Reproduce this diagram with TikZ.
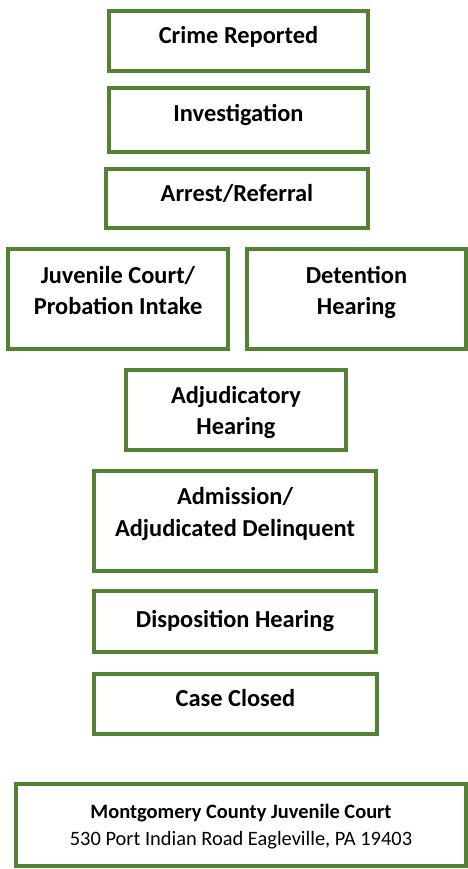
\documentclass[tikz,border=0pt]{standalone}
\usepackage{fontspec}
\setmainfont{Carlito}
\definecolor{boxgreen}{RGB}{84,130,53}
\begin{document}
\begin{tikzpicture}[x=1bp,y=-1bp,
  box/.style={draw=boxgreen, line width=4bp, rectangle, inner sep=0pt, fill=white},
  lbl/.style={font=\fontsize{24.5}{30}\selectfont\bfseries, anchor=base, inner sep=0pt},
  flbl/.style={font=\fontsize{20.5}{25}\selectfont\bfseries, anchor=base, inner sep=0pt},
  faddr/.style={font=\fontsize{20.5}{25}\selectfont, anchor=base, inner sep=0pt}]
\useasboundingbox (0,0) rectangle (468,869);
% boxes
\node[box, minimum width=259bp, minimum height=60bp] (b1) at (238.5,41) {};
\node[box, minimum width=259bp, minimum height=64bp] (b2) at (238.5,120) {};
\node[box, minimum width=262bp, minimum height=59bp] (b3) at (237,198.5) {};
\node[box, minimum width=220bp, minimum height=100bp] (b4) at (118,299) {};
\node[box, minimum width=219bp, minimum height=100bp] (b5) at (356.5,299) {};
\node[box, minimum width=220bp, minimum height=80bp] (b6) at (236,410) {};
\node[box, minimum width=282bp, minimum height=100bp] (b7) at (235,521) {};
\node[box, minimum width=282bp, minimum height=61bp] (b8) at (235,621.5) {};
\node[box, minimum width=283bp, minimum height=60bp] (b9) at (235.5,704) {};
\node[box, minimum width=450bp, minimum height=82bp] (b10) at (241,825) {};
% labels
\node[lbl] (t1) at (238.5,43) {Crime Reported};
\node[lbl] (t2) at (238.5,121) {Investigation};
\node[lbl] (t3) at (237,201) {Arrest/Referral};
\node[lbl] (t4a) at (118,283) {Juvenile Court/};
\node[lbl] (t4b) at (118,314) {Probation Intake};
\node[lbl] (t5a) at (356.5,283) {Detention};
\node[lbl] (t5b) at (356.5,314) {Hearing};
\node[lbl] (t6a) at (236,403) {Adjudicatory};
\node[lbl] (t6b) at (236,434) {Hearing};
\node[lbl] (t7a) at (235,504) {Admission/};
\node[lbl] (t7b) at (235,536) {Adjudicated Delinquent};
\node[lbl] (t8) at (235,627) {Disposition Hearing};
\node[lbl] (t9) at (235.5,706) {Case Closed};
\node[flbl] (t10a) at (241,818) {Montgomery County Juvenile Court};
\node[faddr] (t10b) at (241,845) {530 Port Indian Road Eagleville, PA 19403};
\end{tikzpicture}
\end{document}
